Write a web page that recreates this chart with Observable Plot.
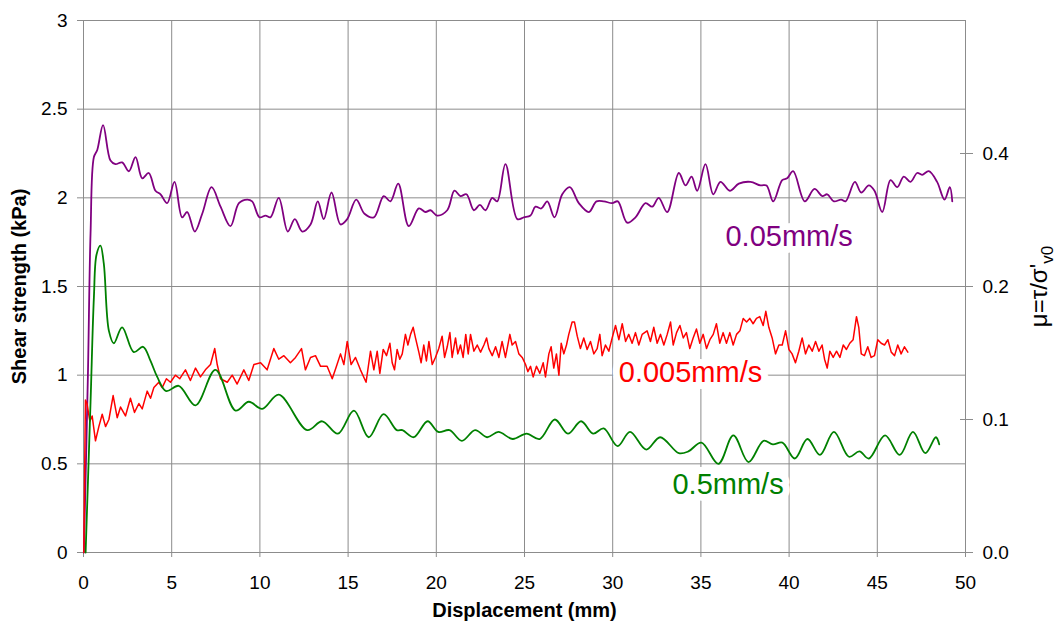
<!DOCTYPE html>
<html>
<head>
<meta charset="utf-8">
<script src="https://cdn.jsdelivr.net/npm/d3@7"></script>
<script src="https://cdn.jsdelivr.net/npm/@observablehq/plot@0.6"></script>
<style>
  html, body { margin: 0; padding: 0; background: #fff; }
</style>
</head>
<body>
<div id="chart"></div>
<script>
// ---- axes / ticks ----
const xTicks = [0, 5, 10, 15, 20, 25, 30, 35, 40, 45, 50];
const yTicks = [0, 0.5, 1, 1.5, 2, 2.5, 3];
const yTickLabels = ["0", "0.5", "1", "1.5", "2", "2.5", "3"];
const sigmaV0 = 6; // kPa, mu = tau / sigma'v0
const muTicks = [0, 0.125, 0.25, 0.375];
const muTickLabels = ["0.0", "0.1", "0.2", "0.4"];

const xTitle = "Displacement (mm)";
const yTitle = "Shear strength (kPa)";
const y2Title = "μ=τ/σ'v0";

// ---- series ----
const seriesNames = ["0.05mm/s", "0.005mm/s", "0.5mm/s"];
const seriesColors = ["#800080", "#ff0000", "#008000"];

const disp005 = [0.02,0.25,0.4,0.59,0.78,1.11,1.53,1.81,2.19,2.57,2.95,3.33,3.70,4.08,4.37,4.74,5.16,5.59,5.88,6.31,6.73,7.26,7.77,8.33,8.81,9.28,9.56,9.98,10.32,10.60,11.07,11.58,11.98,12.40,12.87,13.28,13.62,14.06,14.57,14.95,15.46,15.93,16.46,17.02,17.40,17.84,18.44,19.01,19.39,19.67,20.05,20.62,21.03,21.37,21.71,22.13,22.47,22.79,23.17,23.45,23.92,24.59,24.96,25.34,25.62,25.95,26.29,26.70,27.14,27.57,28.08,28.65,29.08,29.50,29.97,30.29,30.82,31.29,31.86,32.24,32.61,33.09,33.75,34.13,34.47,34.79,35.26,35.70,36.11,36.64,37.15,37.81,38.38,38.72,39.10,39.61,39.89,40.23,40.89,41.44,41.88,42.16,42.54,42.95,43.20,43.73,44.09,44.52,44.84,45.28,45.75,46.13,46.50,46.88,47.26,47.54,47.92,48.39,48.81,49.11,49.25];
const tau005 = [0,1.0,1.8,2.23,2.27,2.41,2.21,2.19,2.20,2.15,2.23,2.11,2.14,2.04,2.02,1.97,2.09,1.89,1.92,1.81,1.91,2.06,1.95,1.84,1.97,1.99,1.98,1.89,1.90,1.89,2.00,1.81,1.88,1.81,1.85,1.98,1.88,2.03,1.85,1.88,1.99,1.91,1.89,2.01,1.98,2.08,1.84,1.94,1.92,1.93,1.90,1.93,2.04,2.01,2.02,1.93,1.96,1.93,2.00,1.98,2.19,1.88,1.89,1.90,1.95,1.94,1.98,1.89,2.02,2.06,1.97,1.92,1.98,1.98,1.97,1.98,1.86,1.89,1.97,1.95,2.00,1.92,2.14,2.07,2.12,2.04,2.19,2.02,2.09,2.04,2.08,2.09,2.07,2.07,1.98,2.10,2.11,2.15,1.98,2.05,2.01,2.02,1.98,1.99,1.98,2.09,2.03,2.07,2.04,1.92,2.10,2.06,2.12,2.09,2.14,2.13,2.15,2.09,1.99,2.06,1.98];

const disp0005 = [0.02,0.08,0.11,0.2,0.36,0.49,0.68,0.87,1.06,1.25,1.44,1.68,1.91,2.10,2.38,2.66,2.89,3.14,3.33,3.61,3.80,3.99,4.27,4.46,4.70,4.93,5.21,5.46,5.78,6.06,6.35,6.63,6.91,7.20,7.44,7.58,7.77,8.15,8.43,8.71,9.09,9.37,9.66,10.04,10.41,10.79,11.07,11.36,11.73,12.02,12.36,12.58,12.87,13.15,13.44,13.81,14.10,14.34,14.57,14.76,14.95,15.17,15.42,15.70,16.02,16.27,16.46,16.65,16.80,16.99,17.18,17.37,17.50,17.63,17.78,17.93,18.07,18.25,18.39,18.54,18.69,18.82,19.01,19.14,19.29,19.44,19.58,19.77,19.95,20.14,20.33,20.47,20.62,20.77,20.90,21.09,21.22,21.37,21.52,21.67,21.81,21.94,22.13,22.32,22.51,22.70,22.85,22.98,23.17,23.36,23.55,23.73,23.92,24.17,24.30,24.49,24.68,24.87,25.06,25.19,25.34,25.49,25.68,25.87,26.06,26.19,26.38,26.51,26.66,26.81,26.95,27.08,27.23,27.38,27.51,27.70,27.83,27.99,28.17,28.36,28.55,28.74,28.93,29.12,29.27,29.40,29.59,29.78,29.97,30.16,30.35,30.54,30.73,30.91,31.10,31.29,31.48,31.67,31.95,32.14,32.33,32.52,32.71,32.90,33.09,33.28,33.43,33.62,33.81,34.00,34.18,34.37,34.56,34.75,34.94,35.13,35.32,35.51,35.70,35.88,36.07,36.26,36.45,36.64,36.83,37.02,37.21,37.40,37.59,37.77,37.96,38.15,38.34,38.53,38.68,38.85,39.04,39.23,39.42,39.61,39.80,39.99,40.17,40.36,40.55,40.74,40.93,41.12,41.31,41.50,41.69,41.87,42.01,42.16,42.31,42.50,42.69,42.88,43.07,43.25,43.44,43.63,43.82,43.95,44.09,44.27,44.46,44.65,44.84,45.03,45.22,45.41,45.60,45.79,45.98,46.16,46.35,46.54,46.73];
const tau0005 = [0,0.6,0.86,0.84,0.74,0.77,0.63,0.71,0.78,0.71,0.75,0.885,0.76,0.82,0.77,0.87,0.79,0.84,0.81,0.91,0.87,0.93,0.96,0.93,0.98,0.96,1.00,0.98,1.03,0.97,1.04,0.99,1.03,1.06,1.15,1.06,0.98,0.96,1.00,0.95,1.03,0.97,1.06,1.07,1.03,1.15,1.09,1.11,1.07,1.10,1.15,1.03,1.10,1.11,1.05,1.05,0.98,1.05,1.12,1.06,1.19,1.06,1.10,1.03,0.96,1.135,1.03,1.135,1.01,1.145,1.11,1.18,1.07,1.03,1.145,1.09,1.12,1.23,1.17,1.23,1.27,1.21,1.13,1.07,1.17,1.08,1.19,1.06,1.10,1.15,1.22,1.10,1.16,1.24,1.10,1.21,1.12,1.17,1.10,1.23,1.12,1.23,1.135,1.17,1.13,1.17,1.21,1.15,1.11,1.16,1.10,1.19,1.10,1.23,1.17,1.19,1.12,1.10,1.06,1.02,1.05,0.99,1.05,1.01,1.07,0.99,1.12,1.16,1.04,1.12,1.00,1.18,1.12,1.17,1.23,1.30,1.30,1.22,1.15,1.21,1.145,1.19,1.12,1.15,1.23,1.11,1.17,1.135,1.21,1.28,1.20,1.29,1.19,1.23,1.18,1.24,1.17,1.23,1.25,1.19,1.27,1.18,1.23,1.17,1.23,1.30,1.17,1.24,1.28,1.21,1.24,1.15,1.21,1.26,1.18,1.23,1.15,1.20,1.23,1.29,1.18,1.24,1.18,1.24,1.17,1.23,1.25,1.32,1.30,1.32,1.29,1.32,1.33,1.28,1.36,1.27,1.21,1.12,1.17,1.17,1.25,1.145,1.12,1.07,1.135,1.21,1.12,1.17,1.135,1.19,1.135,1.17,1.09,1.04,1.135,1.10,1.135,1.10,1.17,1.145,1.18,1.20,1.33,1.27,1.12,1.11,1.16,1.10,1.11,1.20,1.18,1.17,1.20,1.13,1.11,1.17,1.12,1.16,1.13];

const disp05 = [0.12,0.4,0.59,0.74,0.96,1.15,1.44,1.72,2.19,2.85,3.38,3.80,4.18,4.69,5.40,6.35,7.48,8.62,9.37,10.13,11.07,12.68,13.53,14.42,15.33,16.17,17.01,17.76,18.08,18.72,19.51,20.11,20.75,21.45,22.20,22.88,23.52,24.33,25.12,25.86,26.72,27.46,28.21,28.89,29.49,30.28,30.98,31.90,32.69,33.75,34.29,35.03,35.99,36.84,37.70,38.55,39.08,39.62,40.32,41.04,41.75,42.54,43.39,43.99,44.52,45.44,46.27,47.02,47.72,48.32,48.51];
const tau05 = [0,0.85,1.44,1.68,1.73,1.63,1.25,1.18,1.27,1.13,1.16,1.08,0.99,0.91,0.94,0.83,1.03,0.80,0.85,0.81,0.89,0.69,0.74,0.67,0.80,0.65,0.78,0.69,0.69,0.65,0.74,0.68,0.69,0.63,0.69,0.65,0.68,0.64,0.67,0.64,0.75,0.67,0.74,0.67,0.70,0.60,0.68,0.58,0.65,0.56,0.57,0.62,0.50,0.66,0.51,0.63,0.61,0.62,0.53,0.64,0.55,0.68,0.54,0.57,0.53,0.66,0.55,0.68,0.56,0.65,0.61];

// series label anchors (data units)
const labelDisp = [40.0, 34.41, 36.54];
const labelTau = [1.778, 1.011, 0.385];

const seriesDisp = [disp005, disp0005, disp05];
const seriesTau = [tau005, tau0005, tau05];
const seriesWidth = [1.8, 1.5, 1.8];
const seriesCurve = ["catmull-rom", "linear", "catmull-rom"];

const rows = seriesDisp.map((xs, s) => xs.map((x, i) => ({x, y: seriesTau[s][i]})));
const rightKPa = muTicks.map(m => m * sigmaV0);
const rightFmt = new Map(rightKPa.map((v, i) => [v, muTickLabels[i]]));
const leftFmt = new Map(yTicks.map((v, i) => [v, yTickLabels[i]]));

const gridColor = "#8c8c8c";

const labelMarks = seriesNames.map((name, s) =>
  Plot.text([name], {
    x: () => labelDisp[s], y: () => labelTau[s], text: d => d,
    fill: seriesColors[s], stroke: "white", strokeWidth: 14,
    fontSize: 29, lineAnchor: "middle", textAnchor: "middle"
  })
);

const lineMarks = rows.map((data, s) =>
  Plot.line(data, {x: "x", y: "y", stroke: seriesColors[s], strokeWidth: seriesWidth[s], curve: seriesCurve[s]})
);

const chart = Plot.plot({
  width: 1058,
  height: 630,
  marginLeft: 83,
  marginRight: 93,
  marginTop: 20,
  marginBottom: 78,
  x: {domain: [0, 50]},
  y: {domain: [0, 3]},
  style: {fontFamily: "'Liberation Sans', Arial, sans-serif", fontSize: "19px", color: "#000", background: "#fff"},
  marks: [
    Plot.gridY(yTicks, {stroke: gridColor, strokeOpacity: 1}),
    Plot.gridX(xTicks, {stroke: gridColor, strokeOpacity: 1}),
    Plot.axisY(yTicks, {anchor: "left", tickSize: 6, tickPadding: 10, stroke: gridColor, tickFormat: d => leftFmt.get(d), label: null}),
    Plot.axisY(rightKPa, {anchor: "right", tickSize: 13, dx: -6, tickPadding: 10, stroke: gridColor, tickFormat: d => rightFmt.get(d), label: null}),
    Plot.axisX(xTicks, {anchor: "bottom", tickSize: 5, tickPadding: 18, stroke: gridColor, label: null}),
    ...labelMarks,
    ...lineMarks,
    Plot.text([xTitle], {frameAnchor: "bottom", dy: 64, lineAnchor: "bottom", textAnchor: "middle", fontWeight: "bold", fontSize: 20}),
    Plot.text([yTitle], {frameAnchor: "left", dx: -63.5, rotate: -90, lineAnchor: "middle", textAnchor: "middle", fontWeight: "bold", fontSize: 20}),
    Plot.text([y2Title], {frameAnchor: "right", dx: 74, rotate: -90, lineAnchor: "middle", textAnchor: "middle", fontSize: 24})
  ]
});

document.getElementById("chart").appendChild(chart);

// subscript for sigma'v0
d3.select(chart).selectAll("text").filter(function () { return this.textContent === y2Title; })
  .each(function () {
    const t = d3.select(this);
    t.text("μ=τ/σ'");
    t.append("tspan").attr("dy", "0.35em").attr("font-size", 17).text("v0");
  });
</script>
</body>
</html>
